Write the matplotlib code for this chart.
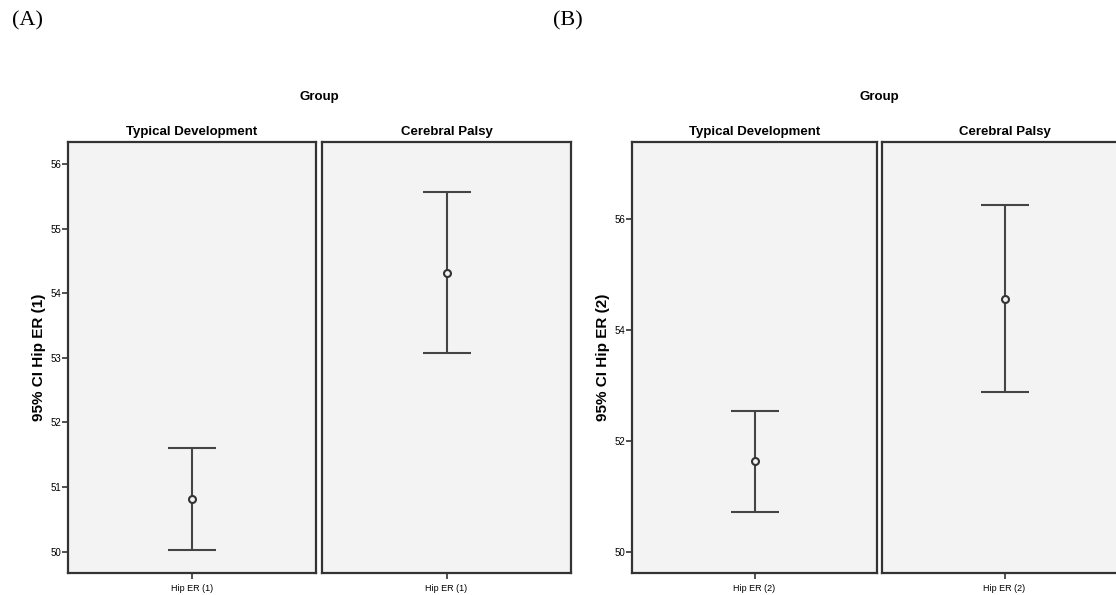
import numpy as np
import matplotlib.pyplot as plt

# values (mean and 95% CI bounds)
groups = ['Typical Development', 'Cerebral Palsy']
labels_a = ['Hip ER (1)', 'Hip ER (1)']
mean_a = [50.82, 54.31]
lo_a = [50.03, 53.08]
hi_a = [51.60, 55.56]

labels_b = ['Hip ER (2)', 'Hip ER (2)']
mean_b = [51.64, 54.56]
lo_b = [50.73, 52.88]
hi_b = [52.54, 56.26]

W, H = 1116, 595
fig = plt.figure(figsize=(W / 100, H / 100), dpi=100)
plt.rcParams['font.family'] = ['Liberation Sans', 'DejaVu Sans']

face = '#f3f3f3'
edge = '#333333'


def box(x0, x1):
    # pixel box -> figure coords
    return [x0 / W, (H - 573) / H, (x1 - x0) / W, 431 / H]


def panel(boxes, means, los, his, xlabs, ylim, yticks, ylabel, tag, tagx):
    axes = []
    for i, (x0, x1) in enumerate(boxes):
        ax = fig.add_axes(box(x0, x1))
        ax.set_facecolor(face)
        for s in ax.spines.values():
            s.set_color(edge)
            s.set_linewidth(1.6)
        m = means[i]
        ax.errorbar([0], [m], yerr=[[m - los[i]], [his[i] - m]], fmt='o',
                    color='#444444', ecolor='#444444', elinewidth=1.5,
                    capsize=17, capthick=1.5, markersize=5,
                    markerfacecolor=face, markeredgecolor='#333333',
                    markeredgewidth=1.5)
        ax.set_xlim(-1, 1)
        ax.set_ylim(ylim)
        ax.set_xticks([0])
        ax.set_xticklabels([xlabs[i]], fontsize=6.5)
        ax.tick_params(axis='x', length=4, width=1.2, color=edge, pad=4)
        ax.set_title(groups[i], fontsize=9.5, fontweight='bold', pad=5)
        if i == 0:
            ax.set_yticks(yticks)
            ax.set_yticklabels([str(t) for t in yticks], fontsize=7)
            ax.tick_params(axis='y', length=4, width=1.2, color=edge, pad=1)
            ax.set_ylabel(ylabel, fontsize=11, fontweight='bold', labelpad=3)
        else:
            ax.set_yticks([])
        axes.append(ax)
    mid = (boxes[0][1] + boxes[1][0]) / 2 / W
    fig.text(mid, 1 - 97 / H, 'Group', ha='center', va='center',
             fontsize=9.5, fontweight='bold')
    fig.text(tagx / W, 1 - 21 / H, tag, ha='left', va='center',
             fontsize=16, family=['Liberation Serif', 'DejaVu Serif'])
    return axes


panel([(68, 316), (322, 571)], mean_a, lo_a, hi_a, labels_a,
      (49.67, 56.34), [50, 51, 52, 53, 54, 55, 56], '95% CI Hip ER (1)', '(A)', 12)
panel([(632, 877), (882, 1127)], mean_b, lo_b, hi_b, labels_b,
      (49.63, 57.39), [50, 52, 54, 56], '95% CI Hip ER (2)', '(B)', 553)

fig.savefig('out.png', dpi=100, facecolor='white')
